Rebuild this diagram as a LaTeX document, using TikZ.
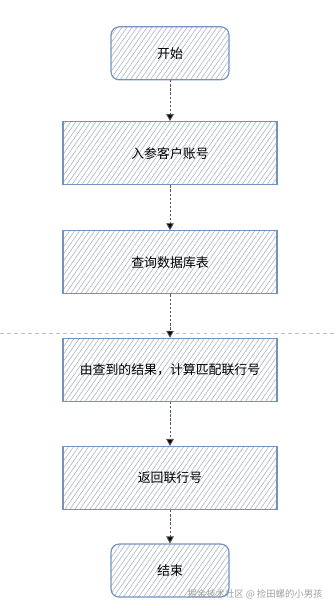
\documentclass[tikz,border=0pt]{standalone}
\usepackage{fontspec}
\setmainfont{Noto Sans CJK SC}
\usetikzlibrary{arrows.meta, positioning, patterns.meta}
\definecolor{boxEdge}{HTML}{7393BE}
\definecolor{hatchGray}{HTML}{A9B3C4}
\definecolor{flowDark}{HTML}{555555}
\definecolor{markGray}{HTML}{A0A0A0}

\begin{document}
\begin{tikzpicture}[font=\fontsize{11}{13}\selectfont,
  proc/.style={rectangle, draw=boxEdge, line width=1pt,
               pattern={Lines[angle=55, distance=3.5pt, line width=0.5pt]},
               pattern color=hatchGray,
               minimum width=6.42cm, minimum height=1.89cm},
  term/.style={proc, rounded corners=7pt,
               minimum width=3.54cm, minimum height=1.59cm},
  flow/.style={-{Triangle[length=6pt, width=6.5pt, fill=black]}, draw=flowDark,
               dash pattern=on 2pt off 1.5pt, line width=0.8pt}]
  \useasboundingbox (0,0) rectangle (10.05,-18.27);
  % 流程
  \node[term] (start) at (5.1,-1.6) {开始};
  \node[proc, below=1.23cm of start] (input) {入参客户账号};
  \node[proc, below=1.35cm of input] (query) {查询数据库表};
  \node[proc, below=1.3cm of query] (match) {由查到的结果，计算匹配联行号};
  \node[proc, below=1.32cm of match] (ret) {返回联行号};
  \node[term, below=1.0cm of ret] (stop) {结束};
  % 分隔线
  \coordinate (sepL) at (0,-9.99);
  \coordinate (sepR) at (10.05,-9.99);
  \draw[dashed, black!25, line width=0.6pt] (sepL) -- (sepR);
  % 箭头
  \draw[flow] (start) -- (input);
  \draw[flow] (input) -- (query);
  \draw[flow] (query) -- (match);
  \draw[flow] (match) -- (ret);
  \draw[flow] (ret) -- (stop);
  % 水印
  \node[anchor=east, text=markGray, font=\fontsize{8}{9}\selectfont]
    (mark) at (9.8,-17.82) {掘金技术社区 @ 捡田螺的小男孩};
\end{tikzpicture}
\end{document}
